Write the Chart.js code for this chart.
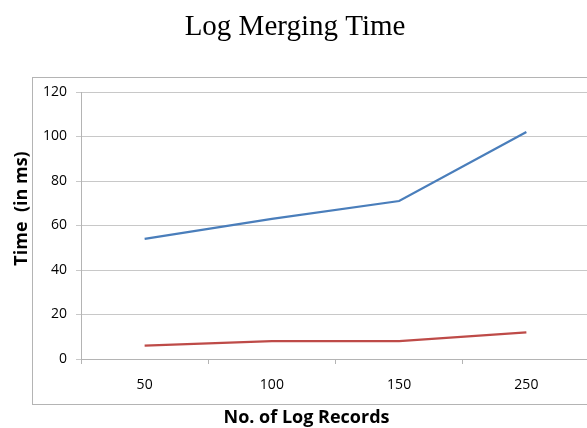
<!DOCTYPE html>
<html>
<head>
<meta charset="utf-8">
<script src="https://cdn.jsdelivr.net/npm/chart.js@4/dist/chart.umd.min.js"></script>
<style>
  html, body { margin: 0; padding: 0; background: #ffffff; overflow: hidden; }
  #wrap { width: 600px; height: 428px; }
</style>
</head>
<body>
<div id="wrap"><canvas id="c" width="600" height="428"></canvas></div>
<script>
const chartTitle = "Log Merging Time";
const xAxisTitle = "No. of Log Records";
const yAxisTitle = "Time  (in ms)";
const categories = ["50", "100", "150", "250"];
const seriesA = [54, 63, 71, 102];
const seriesB = [6, 8, 8, 12];
const yTicks = [0, 20, 40, 60, 80, 100, 120];

const decorPlugin = {
  id: 'decor',
  beforeDraw(chart) {
    const ctx = chart.ctx;
    ctx.save();
    ctx.strokeStyle = '#b4b4b4';
    ctx.lineWidth = 1;
    ctx.strokeRect(32.5, 77.5, 700, 327);
    ctx.restore();
  },
  afterDraw(chart) {
    const ctx = chart.ctx;
    ctx.save();
    ctx.fillStyle = '#000000';
    ctx.font = 'bold 18px "Open Sans"';
    ctx.textAlign = 'center';
    ctx.textBaseline = 'alphabetic';
    ctx.fillText(xAxisTitle, 306.5, 423);
    ctx.translate(27, 208.5);
    ctx.rotate(-Math.PI / 2);
    ctx.fillText(yAxisTitle, 0, 0);
    ctx.restore();
  }
};

new Chart(document.getElementById('c'), {
  type: 'line',
  data: {
    labels: categories,
    datasets: [
      { label: 'A', data: seriesA, borderColor: '#4a7ebb', borderWidth: 2.25, pointRadius: 0, tension: 0, fill: false },
      { label: 'B', data: seriesB, borderColor: '#be4b48', borderWidth: 2.25, pointRadius: 0, tension: 0, fill: false }
    ]
  },
  options: {
    responsive: false,
    animation: false,
    layout: { padding: { top: 0, left: 0, right: 10, bottom: 0 } },
    plugins: {
      legend: { display: false },
      tooltip: { enabled: false },
      title: {
        display: true,
        text: chartTitle,
        color: '#000000',
        font: { family: '"Liberation Serif", serif', size: 29, weight: 'normal', lineHeight: 1.2 },
        padding: { top: 10.3, bottom: 46.9 }
      }
    },
    scales: {
      x: {
        offset: true,
        grid: { display: true, drawOnChartArea: false, drawTicks: true, tickLength: 5, color: '#b4b4b4', offset: true },
        border: { display: true, color: '#b4b4b4', width: 1 },
        ticks: { color: '#000000', font: { family: '"Open Sans"', size: 14 }, padding: 13, maxRotation: 0 },
        afterFit(scale) { scale.height = 69; }
      },
      y: {
        min: 0,
        max: 120,
        afterBuildTicks(scale) { scale.ticks = yTicks.map(v => ({ value: v })); },
        grid: { color: '#c8c8c8', lineWidth: 1, drawTicks: true, tickLength: 5 },
        border: { display: true, color: '#b4b4b4', width: 1 },
        ticks: { color: '#000000', font: { family: '"Open Sans"', size: 14 }, padding: 9 },
        afterFit(scale) { scale.width = 81; }
      }
    }
  },
  plugins: [decorPlugin]
});
</script>
</body>
</html>
